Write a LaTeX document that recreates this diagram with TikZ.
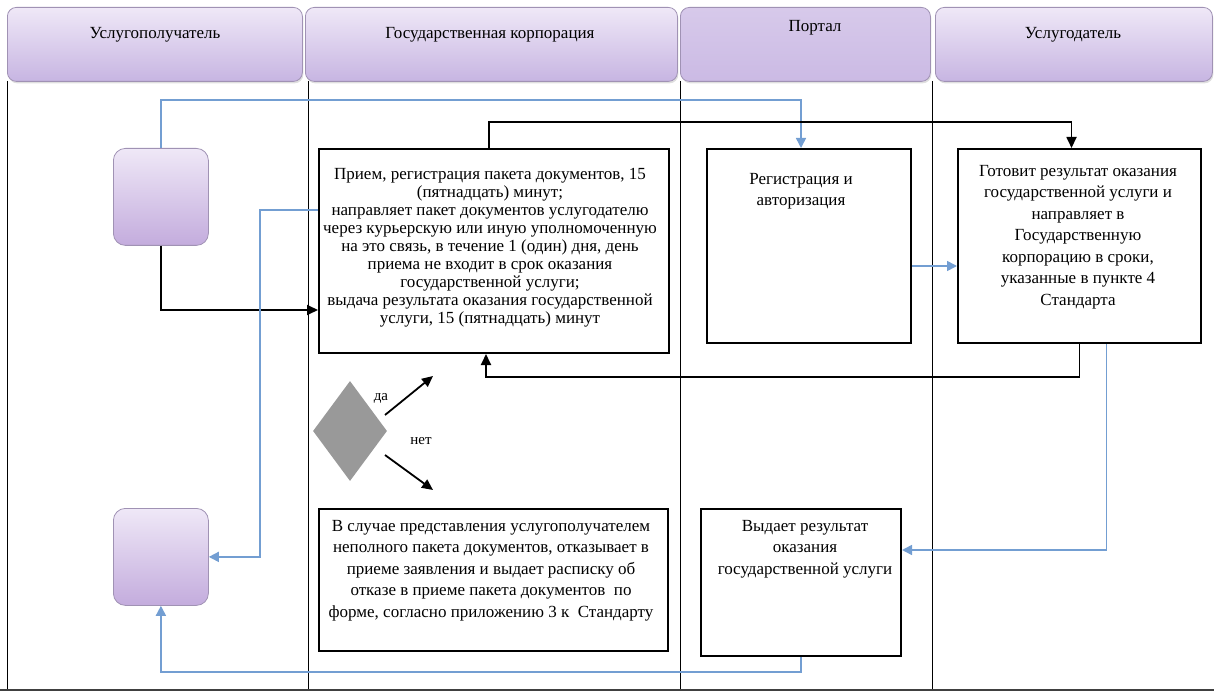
\documentclass[tikz,border=0pt]{standalone}
\usepackage{fontspec}
\setmainfont{Liberation Serif}
\usetikzlibrary{positioning,shapes.geometric,arrows.meta,shadows}

\definecolor{hdtop}{RGB}{239,232,247}
\definecolor{hdbot}{RGB}{199,181,226}
\definecolor{hdline}{RGB}{160,146,180}
\definecolor{lineblue}{RGB}{115,158,210}
\definecolor{chkgray}{RGB}{153,153,153}

\begin{document}
\begin{tikzpicture}[x = 1pt, y = -1pt,
                    font = \fontsize{17}{21.5}\selectfont,
                    lanehead/.style = {rounded corners = 9pt, draw = hdline, line width = 0.8pt,
                                       top color = hdtop, bottom color = hdbot, anchor = north west,
                                       minimum height = 74pt,
                                       drop shadow = {opacity = 0.25, shadow xshift = 1pt, shadow yshift = -2pt}},
                    actor/.style = {rounded corners = 12pt, draw = hdline, line width = 0.8pt,
                                    top color = hdtop, bottom color = hdbot!95!violet, anchor = north west,
                                    minimum width = 95pt, minimum height = 97pt},
                    proc/.style = {draw, line width = 2pt, anchor = north west, inner sep = 0pt},
                    txt/.style = {align = center, inner sep = 0pt, anchor = north},
                    flow/.style = {line width = 1.8pt, -{Triangle[length = 11pt, width = 10pt]}},
                    bflow/.style = {line width = 1.6pt, draw = lineblue,
                                    -{Triangle[length = 10pt, width = 10pt, fill = lineblue]}}]
  \useasboundingbox (0, 0) rectangle (1214, 692);

  % swimlane heads
  \node [lanehead, minimum width = 295pt] (headA) at (7, 7){};
  \node [lanehead, minimum width = 372pt] (headB) at (305, 7){};
  \node [lanehead, minimum width = 250pt, top color = hdbot!60!hdtop, bottom color = hdbot!90!hdtop] (headC) at (680, 7){};
  \node [lanehead, minimum width = 277pt] (headD) at (935, 7){};
  \node (headAt) at (155, 35){Услугополучатель};
  \node (headBt) at (490, 35){Государственная корпорация};
  \node (headCt) at (815, 28){Портал};
  \node (headDt) at (1073, 35){Услугодатель};

  % lane borders
  \draw [line width = 0.8pt] (7, 81) -- (7, 690);
  \draw [line width = 0.8pt] (308, 81) -- (308, 690);
  \draw [line width = 0.8pt] (680, 81) -- (680, 690);
  \draw [line width = 0.8pt] (932, 81) -- (932, 690);
  \draw [line width = 1.6pt, black!75] (0, 690) -- (1214, 690);

  % boxes
  \node [actor] (start) at (113, 148){};
  \node [actor] (finish) at (113, 508){};
  \node [proc, minimum width = 350pt, minimum height = 204pt] (recv) at (318, 148){};
  \node [proc, minimum width = 204pt, minimum height = 194pt] (reg) at (706, 148){};
  \node [proc, minimum width = 243pt, minimum height = 194pt] (prep) at (957, 148){};
  \node [proc, minimum width = 349pt, minimum height = 142pt] (deny) at (318, 508){};
  \node [proc, minimum width = 200pt, minimum height = 147pt] (issue) at (700, 508){};
  \node [diamond, fill = chkgray, inner sep = 0pt, minimum width = 74pt, minimum height = 100pt] (chk) at (350, 431){};

  \node [txt, font = \fontsize{17}{18}\selectfont] (recvt) at (490, 168){Прием, регистрация пакета документов, 15\\
    (пятнадцать) минут;\\
    направляет пакет документов услугодателю\\
    через курьерскую или иную уполномоченную\\
    на это связь, в течение 1 (один) дня, день\\
    приема не входит в срок оказания\\
    государственной услуги;\\
    выдача результата оказания государственной\\
    услуги, 15 (пятнадцать) минут};
  \node [txt] (regt) at (801, 173){Регистрация и\\ авторизация};
  \node [txt] (prept) at (1078, 165){Готовит результат оказания\\
    государственной услуги и\\
    направляет в\\
    Государственную\\
    корпорацию в сроки,\\
    указанные в пункте 4\\
    Стандарта};
  \node [txt] (denyt) at (491, 520){В случае представления услугополучателем\\
    неполного пакета документов, отказывает в\\
    приеме заявления и выдает расписку об\\
    отказе в приеме пакета документов~~по\\
    форме, согласно приложению 3 к~~Стандарту};
  \node [txt] (issuet) at (805, 520){Выдает результат\\ оказания\\ государственной услуги};
  \node [font = \fontsize{15}{17}\selectfont] (yes) at (381, 398){да};
  \node [font = \fontsize{15}{17}\selectfont] (no) at (421, 441){нет};

  \coordinate (yesA) at (385, 415);
  \coordinate (yesB) at (433, 376);
  \coordinate (noA) at (385, 455);
  \coordinate (noB) at (433, 490);

  % connectors
  \draw [bflow] (start.north) -- (start.north |- 0, 100) -| ([xshift = -8pt]reg.north);
  \draw [flow] (start.south) |- (recv.west |- 0, 310);
  \draw [flow] ([xshift = -5pt]recv.north) -- ([xshift = -5pt]recv.north |- 0, 122) -| ([xshift = -8pt]prep.north);
  \draw [bflow] ([yshift = -20pt]reg.east) -- ([yshift = -20pt]prep.west);
  \draw [flow] (prep.south) -- (prep.south |- 0, 377) -| ([xshift = -8pt]recv.south);
  \draw [bflow] ([xshift = 27pt]prep.south) |- (issue.east |- 0, 550);
  \draw [bflow] (recv.west |- 0, 210) -- (260, 210) |- (finish.east);
  \draw [bflow] (issue.south) -- (issue.south |- 0, 672) -| (finish.south);
  \draw [flow] (yesA) -- (yesB);
  \draw [flow] (noA) -- (noB);
\end{tikzpicture}
\end{document}
